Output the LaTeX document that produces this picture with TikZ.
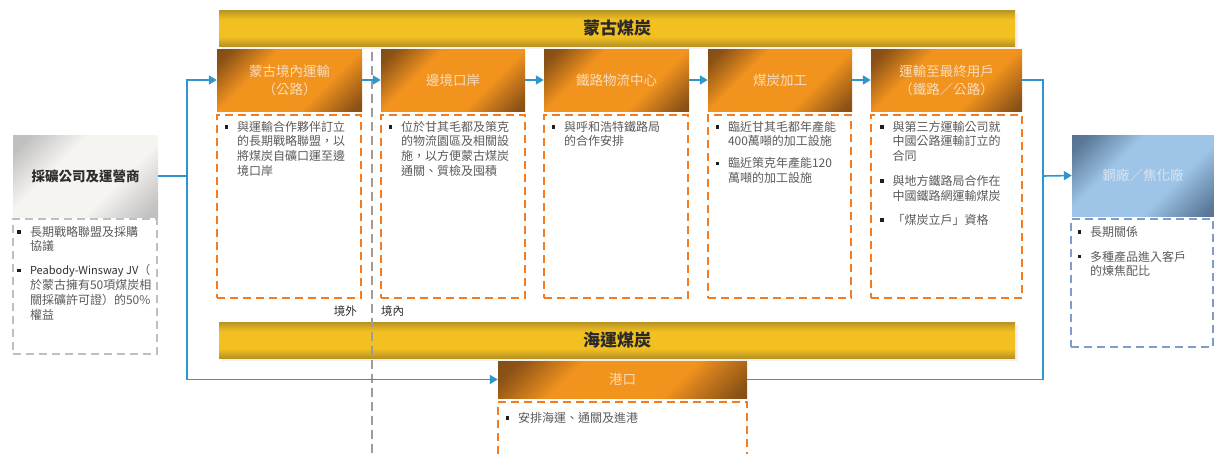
\documentclass[tikz,border=0pt]{standalone}
\usepackage{fontspec}
\setmainfont{Noto Sans CJK TC}
\usetikzlibrary{arrows.meta}
\definecolor{obrown}{HTML}{6A3D14}
\definecolor{oorange}{HTML}{F2931E}
\definecolor{gdark}{HTML}{6C5726}
\definecolor{gyellow}{HTML}{F2C021}
\definecolor{dorange}{HTML}{F47B20}
\definecolor{lblue}{HTML}{2E96CC}
\definecolor{txtgray}{HTML}{5A5A5A}
\definecolor{txtdark}{HTML}{2E2E2E}
\definecolor{hdtext}{HTML}{F8DDBC}
\definecolor{sdark}{HTML}{4A6584}
\definecolor{slight}{HTML}{9EC5E8}
\definecolor{stext}{HTML}{D8E4F0}
\definecolor{gdk}{HTML}{B8B8B8}
\definecolor{glt}{HTML}{F6F4F1}
\definecolor{dgray}{HTML}{BFBFBF}
\definecolor{vgray}{HTML}{9C9C9C}
\definecolor{dblue}{HTML}{7F9CCB}
\definecolor{bartext}{HTML}{2A2A2A}
\definecolor{shadowc}{HTML}{F4F1EC}
\definecolor{bulletc}{HTML}{1E1E1E}
\pgfdeclarehorizontalshading{orangeshade}{100bp}{color(0bp)=(obrown); color(20bp)=(obrown!75!oorange); color(36bp)=(oorange); color(64bp)=(oorange); color(82bp)=(obrown!75!oorange); color(100bp)=(obrown)}
\pgfdeclarehorizontalshading{grayshade}{100bp}{color(0bp)=(gdk); color(20bp)=(gdk!85!glt); color(38bp)=(glt); color(62bp)=(glt); color(82bp)=(gdk!85!glt); color(100bp)=(gdk)}
\pgfdeclarehorizontalshading{steelshade}{100bp}{color(0bp)=(sdark); color(20bp)=(sdark!80!slight); color(38bp)=(slight); color(62bp)=(slight); color(82bp)=(sdark!80!slight); color(100bp)=(sdark)}
\pgfdeclareverticalshading{goldshade}{100bp}{color(0bp)=(gdark); color(8bp)=(gdark); color(38bp)=(gyellow); color(62bp)=(gyellow); color(92bp)=(gdark); color(100bp)=(gdark)}
\newcommand\bitem[1]{\hangindent=12.5pt\hangafter=1\noindent\makebox[12.5pt][l]{\textcolor{bulletc}{\rule[2.6pt]{3.5pt}{3.5pt}}}#1\par}
\newcommand\btext[2]{\begin{minipage}[t]{#1}\raggedright\let\\\newline\fontsize{12}{14.8}\selectfont\color{txtgray}#2\end{minipage}}
\begin{document}
\begin{tikzpicture}[x=1pt,y=-1pt,
  bar/.style={shade, shading=goldshade, minimum width=796pt, minimum height=36pt, inner sep=0pt, font=\fontsize{17}{20}\selectfont\bfseries, text=bartext},
  hdr/.style={shade, shading=orangeshade, shading angle=-45, inner sep=0pt, text=hdtext, align=center, font=\fontsize{13.5}{18}\selectfont, minimum height=62pt},
  dbox/.style={draw=dorange, line width=2.4pt, dash pattern=on 8pt off 5pt, inner sep=0pt},
  body/.style={anchor=north west, inner sep=0pt},
  conn/.style={draw=lblue, line width=1.6pt},
  arr/.style={-{Triangle[length=8pt,width=9pt]}},
  lbl/.style={inner sep=0pt, font=\fontsize{11.5}{13}\selectfont, text=txtdark}
]
\useasboundingbox (0,0) rectangle (1214,453);
% bars
\fill[shadowc] (222,13) rectangle (1018,49);
\fill[shadowc] (222,325) rectangle (1018,361);
\node[bar] (topbar) at (617,28) {蒙古煤炭};
\node[bar] (botbar) at (617,340) {海運煤炭};
% headers
\node[hdr, minimum width=145pt] (h1) at (289.5,80) {蒙古境內運輸\\（公路）};
\node[hdr, minimum width=144pt] (h2) at (453,80) {邊境口岸};
\node[hdr, minimum width=145pt] (h3) at (616.5,80) {鐵路物流中心};
\node[hdr, minimum width=144pt] (h4) at (780,80) {煤炭加工};
\node[hdr, minimum width=151pt] (h5) at (946.5,80) {運輸至最終用戶\\（鐵路／公路）};
\node[hdr, minimum width=249pt, minimum height=37pt] (port) at (622.5,379.5) {港口};
\node[shade, shading=grayshade, shading angle=-45, inner sep=0pt, minimum width=145pt, minimum height=82pt, font=\fontsize{13.5}{16}\selectfont\bfseries, text=txtdark] (src) at (85.5,176) {採礦公司及運營商};
\node[shade, shading=steelshade, shading angle=-45, inner sep=0pt, minimum width=142pt, minimum height=81pt, font=\fontsize{13.5}{16}\selectfont, text=stext] (steel) at (1143,175.5) {鋼廠／焦化廠};
% dashed boxes
\node[dbox, minimum width=144pt, minimum height=183pt] (d1) at (289,206.5) {};
\node[dbox, minimum width=144pt, minimum height=183pt] (d2) at (453,206.5) {};
\node[dbox, minimum width=144pt, minimum height=183pt] (d3) at (616,206.5) {};
\node[dbox, minimum width=143pt, minimum height=183pt] (d4) at (779.5,206.5) {};
\node[dbox, minimum width=151pt, minimum height=183pt] (d5) at (946.5,206.5) {};
\node[dbox, minimum width=249pt, minimum height=56pt] (dp) at (622.5,430) {};
\node[dbox, draw=dgray, minimum width=144pt, minimum height=135pt] (dl) at (85,286.5) {};
\node[dbox, draw=dblue, minimum width=142pt, minimum height=128pt] (ds) at (1142,283) {};
% texts
\node[body] (t1) at ([xshift=8.5pt,yshift=-7pt]d1.north west) {\btext{135pt}{\bitem{與運輸合作夥伴訂立\\的長期戰略聯盟，以\\將煤炭自礦口運至邊\\境口岸}}};
\node[body] (t2) at ([xshift=8.5pt,yshift=-7pt]d2.north west) {\btext{135pt}{\bitem{位於甘其毛都及策克\\的物流園區及相關設\\施，以方便蒙古煤炭\\通關、質檢及囤積}}};
\node[body] (t3) at ([xshift=8.5pt,yshift=-7pt]d3.north west) {\btext{135pt}{\bitem{與呼和浩特鐵路局\\的合作安排}}};
\node[body] (t4) at ([xshift=8.5pt,yshift=-7pt]d4.north west) {\btext{135pt}{\bitem{臨近甘其毛都年產能\\400萬噸的加工設施}\vspace{7pt}\bitem{臨近策克年產能120\\萬噸的加工設施}}};
\node[body] (t5) at ([xshift=10pt,yshift=-7pt]d5.north west) {\btext{140pt}{\bitem{與第三方運輸公司就\\中國公路運輸訂立的\\合同}\vspace{10pt}\bitem{與地方鐵路局合作在\\中國鐵路網運輸煤炭}\vspace{9pt}\bitem{「煤炭立戶」資格}}};
\node[body] (tp) at ([xshift=8.5pt,yshift=-11pt]dp.north west) {\btext{240pt}{\bitem{安排海運、通關及進港}}};
\node[body] (tl) at ([xshift=5.5pt,yshift=-8pt]dl.north west) {\btext{140pt}{\bitem{長期戰略聯盟及採購\\協議}\vspace{9pt}\bitem{\textcolor{txtdark}{\fontsize{11}{14.8}\selectfont Peabody-Winsway\ JV}（\\於蒙古擁有50項煤炭相\\關採礦許可證）的50\%\\權益}}};
\node[body] (ts) at ([xshift=7.5pt,yshift=-8pt]ds.north west) {\btext{135pt}{\bitem{長期關係}\vspace{10pt}\bitem{多種產品進入客戶\\的煉焦配比}}};
% border labels
\node[lbl, anchor=east] (outside) at (357,311) {境外};
\node[lbl, anchor=west] (inside) at (381,311) {境內};
% vertical border line
\coordinate (vt) at (372,52);
\coordinate (vb) at (372,458);
\draw[draw=vgray, line width=2.4pt, dash pattern=on 9pt off 5pt] (vt) -- (vb);
% connectors
\coordinate (jl) at (187,176);
\coordinate (jr) at (1043,176);
\draw[conn] (src.east) -- (jl);
\draw[conn, arr] (jl) |- (h1.west);
\draw[conn, arr] (jl) |- (port.west);
\draw[conn, arr] (h1.east) -- (h2.west);
\draw[conn, arr] (h2.east) -- (h3.west);
\draw[conn, arr] (h3.east) -- (h4.west);
\draw[conn, arr] (h4.east) -- (h5.west);
\draw[conn] (h5.east) -| (jr);
\draw[conn] (port.east) -| (jr);
\draw[conn, arr] (jr) -- (steel.west);
\end{tikzpicture}
\end{document}
